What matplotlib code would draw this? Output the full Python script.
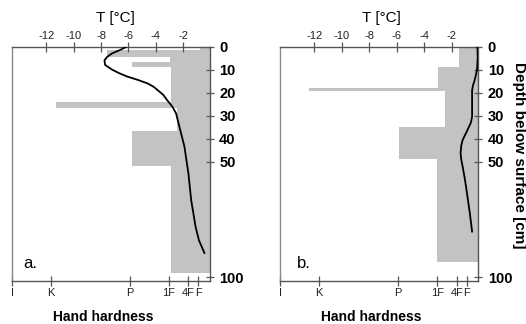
import matplotlib
matplotlib.use("Agg")
import matplotlib.pyplot as plt

plt.rcParams['font.family'] = ['Liberation Sans', 'DejaVu Sans']
plt.rcParams['axes.unicode_minus'] = False

# ---- data -------------------------------------------------------------
# hardness scale (index units, doubling steps)
hard_labels = ['I', 'K', 'P', '1F', '4F', 'F']
hard_values = [20, 16, 8, 4, 2, 1]

temp_ticks = [-12, -10, -8, -6, -4, -2]
depth_ticks = [0, 10, 20, 30, 40, 50, 100]

# panel a: layers (top, bottom depth in cm) and hand hardness
a_top = [0, 1.5, 4.7, 6.6, 8.7, 24.2, 26.8, 36.6, 52.0]
a_bot = [1.5, 4.7, 6.6, 8.7, 24.2, 26.8, 36.6, 52.0, 98.2]
a_hard = [0.82, 10.3, 3.88, 7.77, 3.78, 15.5, 3.17, 7.77, 3.78]
# panel a: temperature profile
a_depth = [0, 1.5, 3, 4.5, 6, 8, 10, 11.5, 13, 14.5, 16, 17.5, 19, 21, 23.2,
           26, 29, 34.7, 43.4, 55, 66.5, 78, 84, 89.5]
a_temp = [-6.1, -6.6, -7.2, -7.55, -7.75, -7.7, -7.2, -6.7, -6.1, -5.3, -4.6,
          -4.15, -3.85, -3.45, -3.18, -2.8, -2.52, -2.28, -1.91, -1.62, -1.42,
          -1.1, -0.85, -0.45]

# panel b
b_top = [0, 8.7, 18.1, 19.3, 34.7, 48.8]
b_bot = [8.7, 18.1, 19.3, 34.7, 48.8, 93.6]
b_hard = [1.79, 3.94, 17.0, 3.22, 7.92, 4.0]
b_depth = [0, 5, 10, 12, 14.5, 17, 19, 26, 30.4, 33, 34.7, 37.5, 40.5, 43,
           46.2, 49, 52, 57, 62, 72, 80.2]
b_temp = [-0.12, -0.1, -0.15, -0.22, -0.32, -0.45, -0.51, -0.51, -0.51, -0.6,
          -0.73, -0.95, -1.2, -1.3, -1.35, -1.3, -1.2, -1.05, -0.92, -0.68,
          -0.51]

# ---- figure -----------------------------------------------------------
W, H = 526, 324
fig = plt.figure(figsize=(W / 100, H / 100), dpi=100)

HMAX, HMIN = 20.0, -0.15
TMIN, TMAX = -14.5, -0.08
DMAX = 101.5
SPC = '#555555'


def panel(left_px, width_px, tops, bots, hards, dep, tem, letter, hh_x, tl_x):
    top_px, bot_px = 46.5, 280.7
    ax = fig.add_axes([left_px / W, 1 - bot_px / H, width_px / W,
                       (bot_px - top_px) / H])
    ax.set_xlim(HMAX, HMIN)
    ax.set_ylim(DMAX, 0)
    thick = [b - t for t, b in zip(tops, bots)]
    widths = [h - HMIN for h in hards]
    ax.barh(tops, widths, height=thick, left=HMIN, align='edge',
            color='#c3c3c3', edgecolor='none', zorder=1)

    # bottom: hand hardness
    ax.set_xticks(hard_values)
    ax.set_xticklabels(hard_labels)
    ax.tick_params(axis='x', bottom=True, top=False, direction='inout',
                   length=7, width=0.9, color=SPC, labelsize=8, pad=2,
                   labelcolor='#222222')
    ax.set_xlabel('Hand hardness', fontsize=10, fontweight='bold')
    ax.xaxis.label.set_va('baseline')
    ax.xaxis.set_label_coords((hh_x - left_px) / width_px,
                              (bot_px - 321) / (bot_px - top_px))

    # right: depth
    ax.yaxis.tick_right()
    ax.set_yticks(depth_ticks)
    ax.tick_params(axis='y', left=False, right=True, direction='inout',
                   length=6, width=0.9, color=SPC, labelsize=10.5, pad=4)
    for lab in ax.get_yticklabels():
        lab.set_fontweight('bold')

    for s in ['top', 'right', 'bottom']:
        ax.spines[s].set_color(SPC)
        ax.spines[s].set_linewidth(1.0)
    ax.spines['left'].set_color('#8a8a8a')
    ax.spines['left'].set_linewidth(1.0)

    ax.text((23 - 12) / 197.5 if letter == 'a.' else 0.086, 0.054, letter,
            transform=ax.transAxes, fontsize=12, va='baseline', ha='left')

    # top: temperature
    at = ax.twiny()
    at.set_xlim(TMIN, TMAX)
    at.set_ylim(DMAX, 0)
    at.plot(tem, dep, color='black', lw=1.3, zorder=3)
    at.set_xticks(temp_ticks)
    at.tick_params(axis='x', direction='inout', length=7, width=0.9,
                   color=SPC, labelsize=8, pad=0.5, labelcolor='#222222')
    for s in at.spines.values():
        s.set_visible(False)
    fig.text(tl_x / W, 1 - 18 / H, 'T [°C]', ha='center', va='center',
             fontsize=11)
    return ax


panel(12, 197.5, a_top, a_bot, a_hard, a_depth, a_temp, 'a.', 103.5, 115.8)
panel(280, 198.0, b_top, b_bot, b_hard, b_depth, b_temp, 'b.', 371.5, 381.7)

fig.text(519 / W, 1 - 155 / H, 'Depth below surface [cm]', rotation=270,
         ha='center', va='center', fontsize=11, fontweight='bold')

fig.savefig('out.png', dpi=100)
